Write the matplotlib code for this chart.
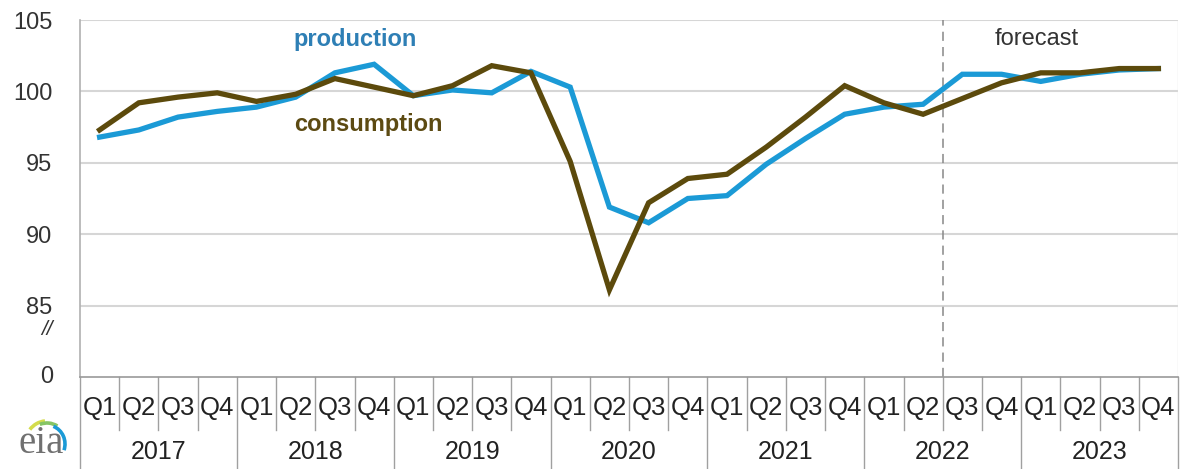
import numpy as np
import matplotlib.pyplot as plt
from matplotlib.patches import Arc
from matplotlib.transforms import blended_transform_factory

# quarterly index values
years = ['2017', '2018', '2019', '2020', '2021', '2022', '2023']
quarters = ['Q1', 'Q2', 'Q3', 'Q4']
production = [96.8, 97.3, 98.2, 98.6, 98.9, 99.6, 101.3, 101.9,
              99.7, 100.1, 99.9, 101.4, 100.3, 91.9, 90.8, 92.5,
              92.7, 94.9, 96.7, 98.4, 98.9, 99.1, 101.2, 101.2,
              100.7, 101.2, 101.5, 101.6]
consumption = [97.3, 99.2, 99.6, 99.9, 99.3, 99.8, 100.9, 100.3,
               99.7, 100.4, 101.8, 101.3, 95.1, 86.1, 92.2, 93.9,
               94.2, 96.1, 98.2, 100.4, 99.2, 98.4, 99.5, 100.6,
               101.3, 101.3, 101.6, 101.6]
yticks = [85, 90, 95, 100, 105]
forecast_start = 21.5  # between 2022 Q2 and Q3

blue = '#1b9ad6'
brown = '#5c4a0c'
grid = '#d6d6d6'
txt = '#333333'

plt.rcParams['font.family'] = ['Liberation Sans', 'DejaVu Sans']

fig = plt.figure(figsize=(11.81, 4.69), dpi=100)
ax = fig.add_axes([80 / 1181, 1 - 377 / 469, 1098 / 1181, 357 / 469])

x = np.arange(len(production))
ax.plot(x, production, color=blue, lw=3.8, solid_joinstyle='miter', zorder=3)
ax.plot(x, consumption, color=brown, lw=3.8, solid_joinstyle='miter', zorder=4)

ax.set_xlim(-0.5, len(x) - 0.5)
ax.set_ylim(80, 105)
ax.set_yticks(yticks)
ax.set_yticklabels([str(v) for v in yticks], fontsize=17, color=txt)
ax.set_xticks([])
for v in yticks:
    ax.axhline(v, color=grid, lw=1.5, zorder=1)
ax.tick_params(axis='y', length=0, pad=20)

for s in ['top', 'right']:
    ax.spines[s].set_visible(False)
ax.spines['left'].set_color('#b0b0b0')
ax.spines['left'].set_linewidth(1.2)
ax.spines['bottom'].set_color('#999999')
ax.spines['bottom'].set_linewidth(1.2)
ax.axvline(len(x) - 0.5, color='#e2e2e2', lw=1.0, zorder=1)

# y-axis break and zero label
tr_y = blended_transform_factory(ax.transAxes, ax.transData)
ax.text(-0.03, 83.3, '//', transform=tr_y, ha='center', va='center',
        fontsize=15, style='italic', color=txt)
ax.text(-0.03, 80.0, '0', transform=tr_y, ha='center', va='center',
        fontsize=17, color=txt)

# forecast divider
ax.axvline(forecast_start, color='#888888', lw=1.1, ls=(0, (6, 4)), zorder=2)
ax.text(23.9, 103.7, 'forecast', ha='center', va='center', fontsize=17, color=txt)

# series labels
ax.text(4.95, 103.6, 'production', ha='left', va='center', fontsize=17,
        fontweight='bold', color='#2e7fb5')
ax.text(4.95, 97.7, 'consumption', ha='left', va='center', fontsize=17,
        fontweight='bold', color='#5c4a12')

# category axis below the plot
tr = blended_transform_factory(ax.transData, ax.transAxes)
q_y = -(408 - 377) / 357
yr_y = -(452 - 377) / 357
q_len = -(430 - 377) / 357
yr_len = -(469 - 377) / 357
for i in range(len(x)):
    ax.text(i, q_y, quarters[i % 4], transform=tr, ha='center', va='center',
            fontsize=18.5, color='#222222')
for i in range(len(x) + 1):
    b = i - 0.5
    low = yr_len if i % 4 == 0 else q_len
    ax.plot([b, b], [0, low], transform=tr, color='#a0a0a0', lw=1.0,
            clip_on=False)
for j, yr in enumerate(years):
    ax.text(j * 4 + 1.5, yr_y, yr, transform=tr, ha='center', va='center',
            fontsize=18, color='#222222')

# eia logo, drawn in figure pixels (y measured up from the bottom)
lax = fig.add_axes([5 / 1181, 0, 75 / 1181, 69 / 469])
lax.set_xlim(5, 80)
lax.set_ylim(0, 69)
lax.axis('off')
lax.text(41, 26, 'eia', family='Liberation Serif', fontsize=28,
         color='#707070', ha='center', va='center')
for c, t1, t2, r in [('#d4dc4c', 95, 140, 22), ('#86c565', 60, 110, 20),
                     (blue, -20, 70, 18)]:
    lax.add_patch(Arc((47, 25), 2 * r, 2 * r * 1.05, theta1=t1, theta2=t2,
                      color=c, lw=2.6))

fig.savefig('out.png', dpi=100)
